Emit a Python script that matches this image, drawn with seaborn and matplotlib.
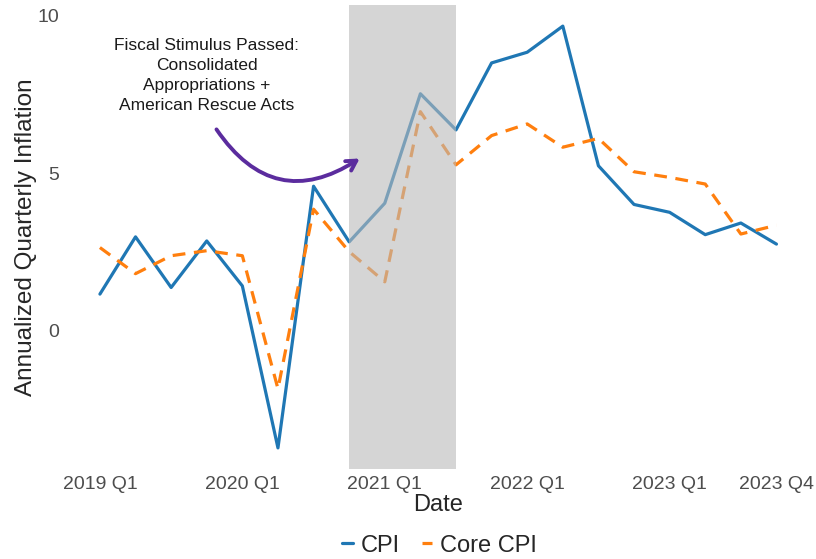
import numpy as np
import pandas as pd
import matplotlib
matplotlib.use("Agg")
import matplotlib.pyplot as plt
import seaborn as sns

# quarterly periods 2019 Q1 .. 2023 Q4
quarters = [f"{y} Q{q}" for y in range(2019, 2024) for q in range(1, 5)]

cpi = [1.15, 2.97, 1.36, 2.84, 1.41, -3.74, 4.58, 2.81,
       4.04, 7.52, 6.37, 8.50, 8.84, 9.67, 5.23, 4.00,
       3.75, 3.04, 3.41, 2.74]
core_cpi = [2.63, 1.80, 2.37, 2.53, 2.37, -1.86, 3.85, 2.50,
            1.54, 6.95, 5.26, 6.19, 6.56, 5.82, 6.10, 5.04,
            4.86, 4.65, 3.06, 3.34]

tick_labels = ["2019 Q1", "2020 Q1", "2021 Q1", "2022 Q1", "2023 Q1", "2023 Q4"]
stimulus_start, stimulus_end = "2020 Q4", "2021 Q3"

note = "Fiscal Stimulus Passed:\nConsolidated\nAppropriations +\nAmerican Rescue Acts"

# long table for seaborn
df = pd.DataFrame({
    "idx": list(range(len(quarters))) * 2,
    "value": cpi + core_cpi,
    "series": ["CPI"] * len(cpi) + ["Core CPI"] * len(core_cpi),
})

sns.set_style("white")
plt.rcParams["font.family"] = ["Liberation Sans", "DejaVu Sans"]

fig = plt.figure(figsize=(8.16, 5.59), dpi=100)
ax = fig.add_axes([0.081, 0.161, 0.912, 0.830])

sns.lineplot(data=df, x="idx", y="value", hue="series", style="series",
             palette={"CPI": "#1f77b4", "Core CPI": "#ff7f0e"},
             dashes={"CPI": "", "Core CPI": (4, 2.7)},
             linewidth=2.3, ax=ax, legend=True)

# shaded stimulus window drawn over the lines
ax.axvspan(quarters.index(stimulus_start), quarters.index(stimulus_end),
           color="#bababa", alpha=0.6, lw=0, zorder=5)

n = len(quarters)
lo, hi = min(cpi + core_cpi), max(cpi + core_cpi)
pad = (hi - lo) * 0.05
ax.set_ylim(lo - pad, hi + pad)
ax.set_xlim(-0.05 * (n - 1), (n - 1) * 1.05)

ax.set_xticks([quarters.index(t) for t in tick_labels])
ax.set_xticklabels(tick_labels)
ax.set_yticks([0, 5, 10])
ax.tick_params(length=0, labelsize=14, labelcolor="#4d4d4d", pad=5)

ax.set_xlabel("Date", fontsize=17, labelpad=1)
ax.set_ylabel("Annualized Quarterly Inflation", fontsize=17.5, labelpad=0)

for s in ax.spines.values():
    s.set_visible(False)

ax.annotate("", xy=(7.36, 5.51), xytext=(3.23, 6.46),
            arrowprops=dict(arrowstyle="->,head_length=0.7,head_width=0.4",
                            color="#5b2c9e", lw=2.8,
                            connectionstyle="arc3,rad=0.5"),
            zorder=6)
ax.text(3.0, 8.09, note, ha="center", va="center", fontsize=12.5,
        linespacing=1.42, color="#1a1a1a")

handles, labels = ax.get_legend_handles_labels()
ax.legend(handles, labels, loc="center", bbox_to_anchor=(0.539, 0.024),
          bbox_transform=fig.transFigure, ncol=2, frameon=False,
          fontsize=17, handlelength=0.45, handletextpad=0.35,
          columnspacing=0.9)

fig.savefig("out.png", dpi=100)
